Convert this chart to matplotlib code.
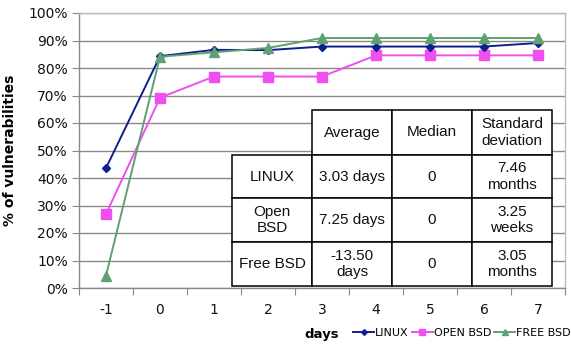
import matplotlib
matplotlib.use("Agg")
import matplotlib.pyplot as plt
from matplotlib.patches import Rectangle

# ---- data ----
days = ["-1", "0", "1", "2", "3", "4", "5", "6", "7"]
linux = [43.6, 84.3, 86.6, 86.5, 87.8, 87.8, 87.8, 87.8, 89.1]
open_bsd = [26.9, 69.2, 76.9, 76.9, 76.9, 84.6, 84.6, 84.6, 84.6]
free_bsd = [4.5, 84.1, 85.7, 87.3, 90.9, 90.9, 90.9, 90.9, 90.9]
series_names = ["LINUX", "OPEN BSD", "FREE BSD"]
y_ticks = [0, 10, 20, 30, 40, 50, 60, 70, 80, 90, 100]

table_header = ["Average", "Median", "Standard\ndeviation"]
table_rows = ["LINUX", "Open\nBSD", "Free BSD"]
table_cells = [
    ["3.03 days", "0", "7.46\nmonths"],
    ["7.25 days", "0", "3.25\nweeks"],
    ["-13.50\ndays", "0", "3.05\nmonths"],
]

W, H = 571, 350
fig = plt.figure(figsize=(W / 100, H / 100), dpi=100)
fig.patch.set_facecolor("white")

def fx(px):
    return px / W

def fy(py):
    return 1 - py / H

ax = fig.add_axes([fx(79), fy(288), fx(565) - fx(79), fy(13) - fy(288)])
x = list(range(len(days)))

ax.plot(x, linux, color="#0D1F8C", marker="D", markersize=4.5, lw=1.4, label=series_names[0], zorder=4)
ax.plot(x, open_bsd, color="#EE4FEE", marker="s", markersize=6.5, lw=1.4, label=series_names[1], zorder=3)
ax.plot(x, free_bsd, color="#5FA172", marker="^", markersize=6.5, lw=1.4, label=series_names[2], zorder=5)

ax.set_xlim(-0.5, len(days) - 0.5)
ax.set_ylim(0, 100)
ax.set_yticks(y_ticks)
ax.set_yticklabels([f"{v}%" for v in y_ticks], fontsize=10, family="DejaVu Sans", color="#111111")
ax.set_xticks([i - 0.5 for i in range(len(days) + 1)])
ax.set_xticklabels([])
ax.set_xticks(x, minor=True)
ax.set_xticklabels(days, minor=True, fontsize=10, family="DejaVu Sans", color="#111111")
ax.tick_params(axis="x", which="minor", length=0, pad=11)
ax.tick_params(axis="x", which="major", length=5, color="#888888", direction="out")
ax.tick_params(axis="y", length=5, color="#888888", direction="out", pad=3)

ax.grid(axis="y", color="#8a8a8a", lw=1.0, zorder=0)
ax.set_axisbelow(True)
for s in ["top", "right"]:
    ax.spines[s].set_color("#bbbbbb")
    ax.spines[s].set_linewidth(1.0)
for s in ["left", "bottom"]:
    ax.spines[s].set_color("#888888")
    ax.spines[s].set_linewidth(1.0)

ax.set_ylabel("% of vulnerabilities", fontsize=10, fontweight="bold", family="DejaVu Sans", labelpad=8)
ax.set_xlabel("days", fontsize=9.5, fontweight="bold", family="DejaVu Sans")
ax.xaxis.set_label_coords(0.5, -0.145)

# ---- table (figure pixel layout) ----
col_x = [232, 312, 392, 472, 552]
row_y = [110, 155, 198, 242, 286]
tfont = dict(family="Liberation Sans", fontsize=11, ha="center", va="center", color="#111111", linespacing=1.25)

def cell(x0, y0, x1, y1, txt):
    fig.add_artist(Rectangle((fx(x0), fy(y1)), fx(x1) - fx(x0), fy(y0) - fy(y1),
                             transform=fig.transFigure, facecolor="white", edgecolor="black",
                             lw=1.1, zorder=10))
    fig.text(fx((x0 + x1) / 2), fy((y0 + y1) / 2), txt, zorder=11, **tfont)

for j, h in enumerate(table_header):
    cell(col_x[j + 1], row_y[0], col_x[j + 2], row_y[1], h)
for i, rname in enumerate(table_rows):
    cell(col_x[0], row_y[i + 1], col_x[1], row_y[i + 2], rname)
    for j, v in enumerate(table_cells[i]):
        cell(col_x[j + 1], row_y[i + 1], col_x[j + 2], row_y[i + 2], v)

# ---- legend ----
leg = fig.legend(loc="center right", bbox_to_anchor=(fx(571), fy(333)), ncol=3, frameon=False,
                 handlelength=1.9, handletextpad=0.1, columnspacing=0.25,
                 borderaxespad=0, borderpad=0, markerscale=0.65,
                 prop={"family": "DejaVu Sans", "size": 8})

fig.savefig("out.png", dpi=100)
